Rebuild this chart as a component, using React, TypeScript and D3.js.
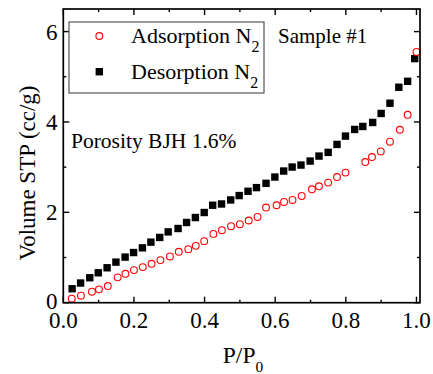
import React from "react";
import * as d3 from "d3";

const adsX = [0.024, 0.05, 0.081, 0.101, 0.126, 0.154, 0.176, 0.2, 0.225, 0.25, 0.275, 0.302, 0.327, 0.354, 0.375, 0.399, 0.425, 0.449, 0.475, 0.5, 0.525, 0.55, 0.574, 0.604, 0.625, 0.649, 0.675, 0.704, 0.724, 0.75, 0.775, 0.799, 0.855, 0.874, 0.899, 0.925, 0.953, 0.975, 1.0];
const adsY = [0.09, 0.155, 0.243, 0.296, 0.369, 0.561, 0.64, 0.722, 0.788, 0.861, 0.943, 1.024, 1.126, 1.185, 1.258, 1.362, 1.523, 1.605, 1.693, 1.737, 1.819, 1.898, 2.106, 2.157, 2.23, 2.274, 2.362, 2.51, 2.576, 2.658, 2.781, 2.879, 3.113, 3.223, 3.349, 3.563, 3.828, 4.159, 5.55];

const desX = [0.025, 0.049, 0.075, 0.099, 0.124, 0.149, 0.175, 0.199, 0.224, 0.248, 0.273, 0.297, 0.325, 0.349, 0.374, 0.399, 0.423, 0.448, 0.474, 0.498, 0.523, 0.547, 0.574, 0.599, 0.624, 0.648, 0.673, 0.699, 0.724, 0.75, 0.775, 0.799, 0.825, 0.848, 0.876, 0.9, 0.925, 0.95, 0.975, 0.995];
const desY = [0.309, 0.435, 0.552, 0.662, 0.773, 0.898, 1.009, 1.11, 1.214, 1.34, 1.444, 1.567, 1.642, 1.775, 1.885, 1.996, 2.157, 2.185, 2.274, 2.371, 2.466, 2.547, 2.642, 2.781, 2.914, 3.002, 3.046, 3.135, 3.245, 3.327, 3.503, 3.687, 3.834, 3.9, 3.989, 4.188, 4.415, 4.768, 4.9, 5.402];

const xMajor = [0, 0.2, 0.4, 0.6, 0.8, 1.0];
const xMinor = [0.1, 0.3, 0.5, 0.7, 0.9];
const yMajor = [0, 2, 4, 6];
const yMinor = [1, 3, 5];

const seriesNames = ["Adsorption N", "Desorption N"];
const sampleLabel = "Sample #1";
const porosityLabel = "Porosity BJH 1.6%";

const W = 433;
const H = 374;
const L = 63.3, R = 420, T = 9, B = 302.7;
const FONT = "'Liberation Serif', 'Times New Roman', serif";

export default function App() {
  const x = d3.scaleLinear().domain([0, 1.01]).range([L, R]);
  const y = d3.scaleLinear().domain([0, 6.5]).range([B, T]);
  const fmtX = d3.format(".1f");
  const majLen = 6, minLen = 3;
  const ads = adsX.map((v, i) => [v, adsY[i]]);
  const des = desX.map((v, i) => [v, desY[i]]);
  const sq = 7.4;

  return (
    <svg width={W} height={H} style={{ position: "absolute", left: 0, top: 0, background: "#fff" }} fontFamily={FONT}>
      {/* data */}
      {des.map(([a, b], i) => (
        <rect key={"d" + i} x={x(a) - sq / 2} y={y(b) - sq / 2} width={sq} height={sq} fill="#000" />
      ))}
      {ads.map(([a, b], i) => (
        <circle key={"a" + i} cx={x(a)} cy={y(b)} r={3.4} fill="none" stroke="#ff0000" strokeWidth={1.1} />
      ))}

      {/* frame */}
      <rect x={L} y={T} width={R - L} height={B - T} fill="none" stroke="#000" strokeWidth={1.7} />
      {xMajor.map((v) => (
        <g key={"xm" + v}>
          <line x1={x(v)} x2={x(v)} y1={B} y2={B - majLen} stroke="#000" strokeWidth={1.4} />
          <line x1={x(v)} x2={x(v)} y1={T} y2={T + majLen} stroke="#000" strokeWidth={1.4} />
          <text x={x(v)} y={327.5} fontSize={23} textAnchor="middle" fill="#000">{fmtX(v)}</text>
        </g>
      ))}
      {xMinor.map((v) => (
        <g key={"xn" + v}>
          <line x1={x(v)} x2={x(v)} y1={B} y2={B - minLen} stroke="#000" strokeWidth={1.4} />
          <line x1={x(v)} x2={x(v)} y1={T} y2={T + minLen} stroke="#000" strokeWidth={1.4} />
        </g>
      ))}
      {yMajor.map((v) => (
        <g key={"ym" + v}>
          <line x1={L} x2={L + majLen} y1={y(v)} y2={y(v)} stroke="#000" strokeWidth={1.4} />
          <line x1={R} x2={R - majLen} y1={y(v)} y2={y(v)} stroke="#000" strokeWidth={1.4} />
          <text x={57.5} y={y(v) - (v === 0 ? 1.5 : 0)} dy="0.35em" fontSize={23} textAnchor="end" fill="#000">{v}</text>
        </g>
      ))}
      {yMinor.map((v) => (
        <g key={"yn" + v}>
          <line x1={L} x2={L + minLen} y1={y(v)} y2={y(v)} stroke="#000" strokeWidth={1.4} />
          <line x1={R} x2={R - minLen} y1={y(v)} y2={y(v)} stroke="#000" strokeWidth={1.4} />
        </g>
      ))}

      {/* axis titles */}
      <text x={243} y={362.5} fontSize={23.5} textAnchor="middle" fill="#000">
        P/P<tspan fontSize={15.5} dy={9}>0</tspan>
      </text>
      <text transform="translate(35,173) rotate(-90)" fontSize={23} textAnchor="middle" fill="#000">
        Volume STP (cc/g)
      </text>

      {/* legend */}
      <rect x={69} y={22} width={195} height={71} fill="#fff" stroke="#555" strokeWidth={1.2} />
      <circle cx={99.3} cy={36} r={3.4} fill="none" stroke="#ff0000" strokeWidth={1.1} />
      <rect x={99.3 - sq / 2} y={71.7 - sq / 2} width={sq} height={sq} fill="#000" />
      <text x={131} y={43.3} fontSize={22} fill="#000">
        {seriesNames[0]}<tspan fontSize={16} dy={9}>2</tspan>
      </text>
      <text x={131} y={79} fontSize={22} fill="#000">
        {seriesNames[1]}<tspan fontSize={16} dy={9}>2</tspan>
      </text>

      <text x={278} y={43.3} fontSize={21} fill="#000">{sampleLabel}</text>
      <text x={71} y={147.7} fontSize={21.5} fill="#000">{porosityLabel}</text>
    </svg>
  );
}
